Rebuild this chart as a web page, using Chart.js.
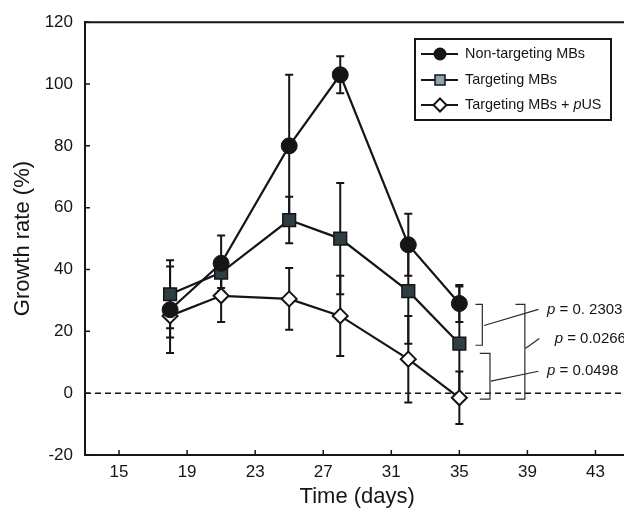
<!DOCTYPE html>
<html>
<head>
<meta charset="utf-8">
<script src="https://cdn.jsdelivr.net/npm/chart.js@4/dist/chart.umd.min.js"></script>
<style>
  html, body { margin: 0; padding: 0; background: #fff; overflow: hidden; }
  #wrap { width: 640px; height: 510px; }
</style>
</head>
<body>
<div id="wrap"><canvas id="myChart" width="640" height="510"></canvas></div>
<script>
// data
const days = [18, 21, 25, 28, 32, 35];
const nonTargeting = [27, 42, 80, 103, 48, 29];
const nonTargetingErr = [14, 9, 23, 6, 10, 6];
const targeting = [32, 39, 56, 50, 33, 16];
const targetingErr = [11, 5, 7.5, 18, 17, 18.5];
const targetingUS = [25, 31.5, 30.5, 25, 11, -1.5];
const targetingUSErr = [7, 8.5, 10, 13, 14, 8.5];
const xTicks = [15, 19, 23, 27, 31, 35, 39, 43];
const yTicks = [-20, 0, 20, 40, 60, 80, 100, 120];
const seriesNames = ["Non-targeting MBs", "Targeting MBs", "Targeting MBs + "];
// p-value labels for the brackets
const pValues = ["0. 2303", "0.0266", "0.0498"];

const FONT = "'Liberation Sans', Arial, sans-serif";
const INK = "#151515";

function pts(ys) { return days.map((d, i) => ({ x: d, y: ys[i] })); }

// error bars, drawn under the markers
const errorBars = {
  id: "errorBars",
  beforeDatasetsDraw(chart) {
    const { ctx, scales: { x, y } } = chart;
    ctx.save();
    ctx.strokeStyle = INK;
    ctx.lineWidth = 2;
    chart.data.datasets.forEach(ds => {
      if (!ds.err) return;
      ds.data.forEach((p, i) => {
        const px = x.getPixelForValue(p.x);
        const top = y.getPixelForValue(p.y + ds.err[i]);
        const bot = y.getPixelForValue(p.y - ds.err[i]);
        ctx.beginPath();
        ctx.moveTo(px, top); ctx.lineTo(px, bot);
        ctx.moveTo(px - 4, top); ctx.lineTo(px + 4, top);
        ctx.moveTo(px - 4, bot); ctx.lineTo(px + 4, bot);
        ctx.stroke();
      });
    });
    // dashed zero line
    const y0 = y.getPixelForValue(0);
    ctx.lineWidth = 1.5;
    ctx.setLineDash([6, 4]);
    ctx.beginPath();
    ctx.moveTo(chart.chartArea.left, y0);
    ctx.lineTo(chart.chartArea.right, y0);
    ctx.stroke();
    ctx.restore();
  }
};

// frame top line, inward ticks, legend box, p-value brackets
const extras = {
  id: "extras",
  afterDraw(chart) {
    const { ctx, chartArea: a, scales: { x, y } } = chart;
    ctx.save();
    ctx.strokeStyle = INK;
    ctx.lineWidth = 2;
    ctx.beginPath();
    ctx.moveTo(a.left, a.top); ctx.lineTo(a.right, a.top);
    ctx.stroke();
    ctx.lineWidth = 1.5;
    ctx.beginPath();
    xTicks.forEach(v => {
      const px = x.getPixelForValue(v);
      ctx.moveTo(px, a.bottom); ctx.lineTo(px, a.bottom - 5);
    });
    yTicks.forEach(v => {
      const py = y.getPixelForValue(v);
      ctx.moveTo(a.left, py); ctx.lineTo(a.left + 5, py);
    });
    ctx.stroke();

    // legend
    ctx.lineWidth = 2;
    ctx.strokeRect(415, 39, 196, 81);
    const rows = [54, 80, 105];
    ctx.textBaseline = "middle";
    rows.forEach((ry, i) => {
      ctx.lineWidth = 2;
      ctx.strokeStyle = INK;
      ctx.beginPath();
      ctx.moveTo(421, ry); ctx.lineTo(458, ry);
      ctx.stroke();
      ctx.beginPath();
      if (i === 0) {
        ctx.arc(440, ry, 6.5, 0, Math.PI * 2);
        ctx.fillStyle = INK; ctx.fill();
      } else if (i === 1) {
        ctx.rect(435, ry - 5, 10, 10);
        ctx.fillStyle = "#8fa3aa"; ctx.fill();
        ctx.lineWidth = 1.5; ctx.stroke();
      } else {
        ctx.moveTo(440, ry - 6.5); ctx.lineTo(446.5, ry);
        ctx.lineTo(440, ry + 6.5); ctx.lineTo(433.5, ry); ctx.closePath();
        ctx.fillStyle = "#fff"; ctx.fill();
        ctx.lineWidth = 2; ctx.stroke();
      }
      ctx.fillStyle = INK;
      ctx.font = "14.4px " + FONT;
      ctx.fillText(seriesNames[i], 465, ry);
      if (i === 2) {
        let tx = 465 + ctx.measureText(seriesNames[i]).width;
        ctx.font = "italic 14.4px " + FONT;
        ctx.fillText("p", tx, ry);
        tx += ctx.measureText("p").width;
        ctx.font = "14.4px " + FONT;
        ctx.fillText("US", tx, ry);
      }
    });

    // p-value brackets
    const X = v => x.getPixelForValue(v), Y = v => y.getPixelForValue(v);
    const brackets = [
      { x0: 35.95, x1: 36.35, top: 28.7, bot: 15.5, from: [36.45, 21.9], to: [39.65, 27.1], tx: 40.15 },
      { x0: 38.3, x1: 38.85, top: 28.7, bot: -1.9, from: [38.9, 14.5], to: [39.7, 17.7], tx: 40.6 },
      { x0: 36.2, x1: 36.8, top: 12.9, bot: -1.9, from: [36.85, 3.9], to: [39.65, 7.1], tx: 40.15 }
    ];
    ctx.strokeStyle = "#2a2a2a";
    ctx.lineWidth = 1.2;
    brackets.forEach((b, i) => {
      ctx.beginPath();
      ctx.moveTo(X(b.x0), Y(b.top)); ctx.lineTo(X(b.x1), Y(b.top));
      ctx.lineTo(X(b.x1), Y(b.bot)); ctx.lineTo(X(b.x0), Y(b.bot));
      ctx.moveTo(X(b.from[0]), Y(b.from[1])); ctx.lineTo(X(b.to[0]), Y(b.to[1]));
      ctx.stroke();
      const ty = Y(b.to[1]);
      let tx = X(b.tx);
      ctx.fillStyle = INK;
      ctx.font = "italic 15px " + FONT;
      ctx.fillText("p", tx, ty);
      tx += ctx.measureText("p").width;
      ctx.font = "15px " + FONT;
      ctx.fillText(" = " + pValues[i], tx, ty);
    });
    ctx.restore();
  }
};

new Chart(document.getElementById("myChart").getContext("2d"), {
  type: "line",
  data: {
    datasets: [
      {
        label: seriesNames[0], data: pts(nonTargeting), err: nonTargetingErr,
        borderColor: INK, borderWidth: 2.2, pointStyle: "circle", pointRadius: 8,
        pointBackgroundColor: INK, pointBorderColor: INK, pointBorderWidth: 1
      },
      {
        label: seriesNames[1], data: pts(targeting), err: targetingErr,
        borderColor: INK, borderWidth: 2.2, pointStyle: "rect", pointRadius: 9,
        pointBackgroundColor: "#2f3e43", pointBorderColor: INK, pointBorderWidth: 1.5
      },
      {
        label: seriesNames[2] + "pUS", data: pts(targetingUS), err: targetingUSErr,
        borderColor: INK, borderWidth: 2.2, pointStyle: "rectRot", pointRadius: 7.5,
        pointBackgroundColor: "#fff", pointBorderColor: INK, pointBorderWidth: 2
      }
    ]
  },
  options: {
    responsive: false,
    animation: false,
    layout: { padding: { top: 22, right: 7, left: 0, bottom: 0 } },
    elements: { line: { tension: 0 }, point: { hoverRadius: 8 } },
    plugins: { legend: { display: false }, tooltip: { enabled: false } },
    scales: {
      x: {
        type: "linear", min: 13, max: 45,
        afterFit: s => { s.height = 55; },
        afterBuildTicks: s => { s.ticks = xTicks.map(v => ({ value: v })); },
        grid: { display: false, drawTicks: false },
        border: { display: true, color: INK, width: 2 },
        ticks: { padding: 7, color: INK, font: { family: FONT, size: 17 }, maxRotation: 0 },
        title: { display: true, text: "Time (days)", color: INK, font: { family: FONT, size: 22 }, padding: { top: 0, bottom: 0 } }
      },
      y: {
        min: -20, max: 120,
        afterFit: s => { s.width = 85; },
        afterBuildTicks: s => { s.ticks = yTicks.map(v => ({ value: v })); },
        grid: { display: false, drawTicks: false },
        border: { display: true, color: INK, width: 2 },
        ticks: { padding: 12, color: INK, font: { family: FONT, size: 17 } },
        title: { display: true, text: "Growth rate (%)", color: INK, font: { family: FONT, size: 22 }, padding: { top: 10, bottom: 0 } }
      }
    }
  },
  plugins: [errorBars, extras]
});
</script>
</body>
</html>
